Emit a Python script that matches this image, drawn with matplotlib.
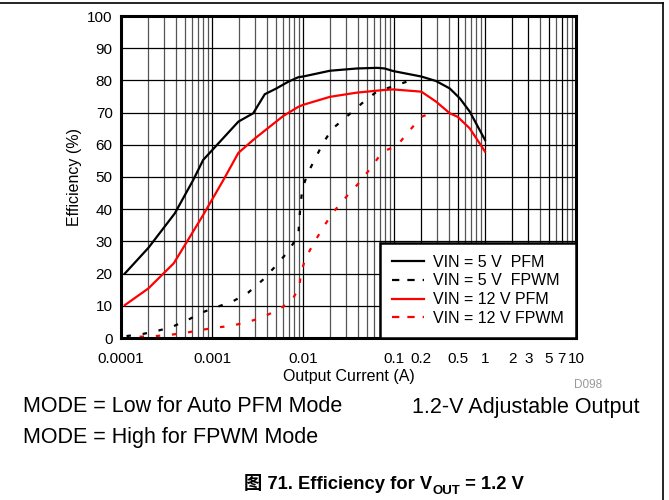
import numpy as np
import matplotlib
matplotlib.use("Agg")
import matplotlib.pyplot as plt
from matplotlib.lines import Line2D

plt.rcParams['font.family'] = ['Liberation Sans', 'Noto Sans CJK SC', 'DejaVu Sans']

# ---- data ----
pfm5_x = [0.00011, 0.0002, 0.00039, 0.00062, 0.0008, 0.00195, 0.00284, 0.0038, 0.0051, 0.0069,
          0.0089, 0.01, 0.0198, 0.039, 0.065, 0.079, 0.098, 0.2, 0.29, 0.41, 0.53, 0.68, 1.0]
pfm5_y = [20, 28, 38.7, 49, 55.3, 67.2, 69.8, 75.7, 77.5, 79.6,
          81, 81.2, 83.0, 83.7, 83.9, 83.7, 82.9, 81.2, 79.8, 77.5, 74.4, 70.3, 61.5]

pfm12_x = [0.00011, 0.0002, 0.00038, 0.00053, 0.0008, 0.00133, 0.00195, 0.00297, 0.0043, 0.0061,
           0.0089, 0.01, 0.0198, 0.039, 0.076, 0.098, 0.2, 0.29, 0.41, 0.5, 0.68, 1.0]
pfm12_y = [10.2, 15.4, 23.2, 29.9, 38.2, 49, 57.5, 62, 65.6, 69,
           71.8, 72.4, 74.9, 76.2, 77, 77.2, 76.5, 73.4, 69.8, 68.7, 65.1, 57.9]

fpwm5_x = [0.000115, 0.00017, 0.00025, 0.00036, 0.00054, 0.00079, 0.00115, 0.0017, 0.0025, 0.0036,
           0.0051, 0.007, 0.0089, 0.0091, 0.0094, 0.0098, 0.0111, 0.0135, 0.0164, 0.0207,
           0.030, 0.0445, 0.0645, 0.094, 0.138]
fpwm5_y = [0.6, 1.2, 2.2, 3.4, 5.6, 8, 9.7, 11.4, 14.1, 18,
           22.6, 27.2, 32, 36.6, 41.3, 46, 50.8, 55.5, 60.2, 64.8,
           68.7, 72.9, 76.5, 78, 79.6]

fpwm12_x = [0.00016, 0.00024, 0.00035, 0.00051, 0.00076, 0.0011, 0.00162, 0.00236, 0.0035, 0.0051,
            0.0074, 0.0091, 0.0095, 0.0107, 0.0133, 0.0167, 0.0215, 0.030, 0.0423, 0.0569,
            0.075, 0.107, 0.147, 0.2, 0.295]
fpwm12_y = [0.4, 0.6, 1.0, 1.6, 2.5, 3.2, 3.8, 4.8, 6.3, 8.5,
            11.3, 15.7, 20.3, 24.9, 29.7, 34.4, 39.1, 43.9, 48.5, 53.2,
            57.9, 59.6, 64.3, 68.7, 70.5]

x_ticks = [0.0001, 0.001, 0.01, 0.1, 0.2, 0.5, 1, 2, 3, 5, 7, 10]
x_tick_labels = ['0.0001', '0.001', '0.01', '0.1', '0.2', '0.5', '1', '2', '3', '5', '7', '10']
y_ticks = list(range(0, 101, 10))
labels = ['VIN = 5 V  PFM', 'VIN = 5 V  FPWM', 'VIN = 12 V PFM', 'VIN = 12 V FPWM']

# ---- figure ----
fig = plt.figure(figsize=(6.69, 5.0), dpi=100)
ax = fig.add_axes([121/669, 1-338/500, (576-121)/669, (338-16)/500])

ax.set_xscale('log')
ax.set_xlim(0.0001, 10)
ax.set_ylim(0, 100)

minor = [m * 10.0**e for e in range(-4, 1) for m in range(2, 10)]
ax.set_xticks(minor, minor=True)
ax.set_xticks(x_ticks)
ax.set_xticklabels(x_tick_labels)
ax.set_xticklabels([], minor=True)
ax.set_yticks(y_ticks)
ax.tick_params(which='both', length=0, labelsize=11)
ax.tick_params(axis='x', pad=10)
ax.tick_params(axis='y', pad=6)

ax.grid(True, which='major', axis='both', color='black', linewidth=0.9)
ax.grid(True, which='minor', axis='x', color='#555555', linewidth=0.9)
ax.set_axisbelow(True)
for s in ax.spines.values():
    s.set_linewidth(2.2)

dash = (0, (2, 5.3))
ax.plot(pfm5_x, pfm5_y, color='black', lw=1.6)
ax.plot(fpwm5_x, fpwm5_y, color='black', lw=1.6, linestyle=dash)
ax.plot(pfm12_x, pfm12_y, color='#ff0000', lw=1.6)
ax.plot(fpwm12_x, fpwm12_y, color='#ff0000', lw=1.6, linestyle=dash)

hdash = (0, (3.3, 3.6))
handles = [Line2D([], [], color='black', lw=1.6),
           Line2D([], [], color='black', lw=1.6, linestyle=hdash),
           Line2D([], [], color='#ff0000', lw=1.6),
           Line2D([], [], color='#ff0000', lw=1.6, linestyle=hdash)]
leg = ax.legend(handles, labels, loc='lower right', bbox_to_anchor=(1.0, 0.0), fontsize=11.5,
                frameon=True, fancybox=False, framealpha=1, edgecolor='black',
                handlelength=2.0, handletextpad=0.55, labelspacing=0.24,
                borderpad=0.75, borderaxespad=0)
leg.get_frame().set_linewidth(1.8)

ax.set_xlabel('Output Current (A)', fontsize=11.5, labelpad=2)
ax.set_ylabel('Efficiency (%)', fontsize=11.5, labelpad=4)

fig.text(602/669, 1-385/500, 'D098', fontsize=8.5, color='#999999', ha='right', va='center')

# page rules (top and right)
fig.add_artist(Line2D([0.0, 663/669], [1-3/500, 1-3/500], color='black', lw=1.2))
fig.add_artist(Line2D([663/669, 663/669], [0.0, 1-3/500], color='black', lw=1.2))

fig.text(23/669, 1-407/500, 'MODE = Low for Auto PFM Mode', fontsize=15.5, ha='left', va='center')
fig.text(640/669, 1-407/500, '1.2-V Adjustable Output', fontsize=15.5, ha='right', va='center')
fig.text(23/669, 1-437/500, 'MODE = High for FPWM Mode', fontsize=15.5, ha='left', va='center')

# caption built from pieces so that CJK fallback works next to a subscript
fam = ['Liberation Sans', 'Noto Sans CJK SC']
cap_size = 13.2
base_y = 1 - 489/500
p1 = fig.text(0, base_y, '图 71. Efficiency for V', fontsize=cap_size, fontweight='bold',
              family=fam, ha='left', va='baseline')
p2 = fig.text(0, base_y - 5/500, 'OUT', fontsize=cap_size*0.72, fontweight='bold',
              family=fam, ha='left', va='baseline')
p3 = fig.text(0, base_y, ' = 1.2 V', fontsize=cap_size, fontweight='bold',
              family=fam, ha='left', va='baseline')
r = fig.canvas.get_renderer()
W = fig.bbox.width
w1 = p1.get_window_extent(r).width / W
w2 = p2.get_window_extent(r).width / W
w3 = p3.get_window_extent(r).width / W
x0 = 384/669 - (w1 + w2 + w3) / 2
p1.set_x(x0)
p2.set_x(x0 + w1)
p3.set_x(x0 + w1 + w2)

fig.savefig('out.png', dpi=100)
